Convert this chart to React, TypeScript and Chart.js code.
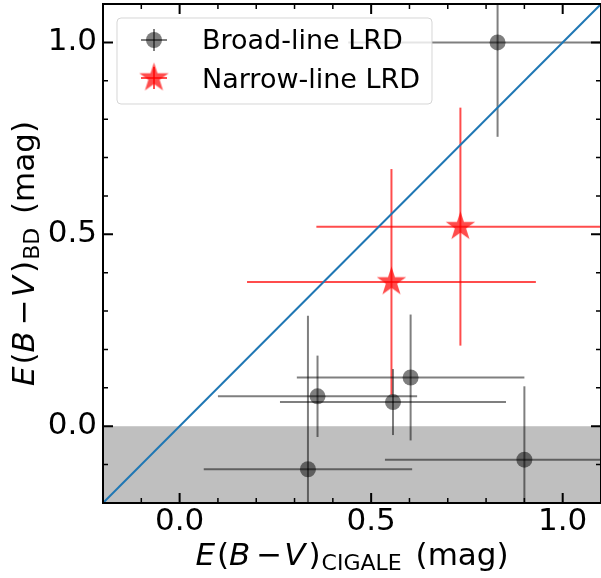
import React, { useEffect, useRef } from "react";
import { Chart, registerables } from "chart.js";

Chart.register(...registerables);

// ---- data ----
const broadX = [0.83, 0.36, 0.557, 0.603, 0.335, 0.9];
const broadY = [1.0, 0.078, 0.063, 0.127, -0.112, -0.087];
const broadXErr = [0.39, 0.26, 0.295, 0.297, 0.272, 0.364];
const broadYErr = [0.246, 0.106, 0.086, 0.164, 0.4, 0.191];

const narrowX = [0.553, 0.733];
const narrowY = [0.376, 0.52];
const narrowXErr = [0.377, 0.376];
const narrowYErr = [0.294, 0.31];

const oneToOne = [-0.2, 1.1];
const xLimits = [-0.2, 1.1];
const yLimits = [-0.2, 1.1];
const majorTicks = [0, 0.5, 1.0];
const minorTicks = [-0.1, 0.1, 0.2, 0.3, 0.4, 0.6, 0.7, 0.8, 0.9];
const shadeBelow = 0;
const legendLabels = ["Broad-line LRD", "Narrow-line LRD"];
const xTitleSub = "CIGALE";
const yTitleSub = "BD";

// ---- styles ----
const GRAY = "rgba(0,0,0,0.5)";
const RED = "rgba(255,0,0,0.7)";
const BLUE = "#1f77b4";
const SHADE = "rgba(128,128,128,0.5)";
const FONT = '"DejaVu Sans", sans-serif';
const TICK_SIZE = 31;
const LABEL_SIZE = 31;
const LEGEND_SIZE = 27;

function makeStar(R: number, color: string) {
  const c = document.createElement("canvas");
  const s = Math.ceil(R * 2 + 2);
  c.width = s;
  c.height = s;
  const g = c.getContext("2d")!;
  const cx = s / 2;
  const cy = s / 2;
  const r = R * 0.381966;
  g.beginPath();
  for (let k = 0; k < 10; k++) {
    const rad = k % 2 === 0 ? R : r;
    const a = -Math.PI / 2 + (k * Math.PI) / 5;
    const px = cx + rad * Math.cos(a);
    const py = cy + rad * Math.sin(a);
    if (k === 0) g.moveTo(px, py);
    else g.lineTo(px, py);
  }
  g.closePath();
  g.fillStyle = color;
  g.fill();
  return c;
}

function drawMathLabel(ctx: CanvasRenderingContext2D, sub: string, size: number) {
  const main = `${size}px ${FONT}`;
  const ital = `italic ${size}px ${FONT}`;
  const subF = `${Math.round(size * 0.7)}px ${FONT}`;
  const segs = [
    { t: "E", f: ital, pre: 0, dy: 0 },
    { t: "(", f: main, pre: 2, dy: 0 },
    { t: "B", f: ital, pre: 0, dy: 0 },
    { t: "\u2212", f: main, pre: 6, dy: 0 },
    { t: "V", f: ital, pre: 2, dy: 0 },
    { t: ")", f: main, pre: 3, dy: 0 },
    { t: sub, f: subF, pre: 1, dy: size * 0.15 },
    { t: " (mag)", f: main, pre: 4, dy: 0 },
  ];
  let total = 0;
  const widths: number[] = [];
  for (const s of segs) {
    ctx.font = s.f;
    const w = ctx.measureText(s.t).width;
    widths.push(w);
    total += s.pre + w;
  }
  let x = -total / 2;
  ctx.fillStyle = "#000";
  ctx.textAlign = "left";
  ctx.textBaseline = "alphabetic";
  segs.forEach((s, i) => {
    x += s.pre;
    ctx.font = s.f;
    ctx.fillText(s.t, x, s.dy);
    x += widths[i];
  });
}

export default function App() {
  const ref = useRef<HTMLCanvasElement>(null);

  useEffect(() => {
    const canvas = ref.current!;
    const star = makeStar(15.5, RED);

    const datasets: any[] = [];
    datasets.push({
      label: legendLabels[0],
      data: broadX.map((x, i) => ({ x, y: broadY[i] })),
      pointStyle: "circle",
      pointRadius: 8,
      backgroundColor: GRAY,
      borderWidth: 0,
      order: 0,
    });
    datasets.push({
      label: legendLabels[1],
      data: narrowX.map((x, i) => ({ x, y: narrowY[i] })),
      pointStyle: star,
      pointRadius: 15.5,
      backgroundColor: RED,
      borderWidth: 0,
      order: 0,
    });
    datasets.push({
      label: "1:1",
      data: oneToOne.map((v) => ({ x: v, y: v })),
      showLine: true,
      borderColor: BLUE,
      borderWidth: 2,
      pointRadius: 0,
      order: 1,
    });
    const addErr = (xs: number[], ys: number[], xe: number[], ye: number[], color: string) => {
      xs.forEach((x, i) => {
        const y = ys[i];
        datasets.push({
          data: [
            { x: x - xe[i], y },
            { x: x + xe[i], y },
          ],
          showLine: true,
          borderColor: color,
          borderWidth: 2,
          pointRadius: 0,
          order: 2,
        });
        datasets.push({
          data: [
            { x, y: y - ye[i] },
            { x, y: y + ye[i] },
          ],
          showLine: true,
          borderColor: color,
          borderWidth: 2,
          pointRadius: 0,
          order: 2,
        });
      });
    };
    addErr(broadX, broadY, broadXErr, broadYErr, GRAY);
    addErr(narrowX, narrowY, narrowXErr, narrowYErr, RED);

    const decor = {
      id: "decor",
      beforeDatasetsDraw(chart: any) {
        const { ctx, chartArea: a, scales } = chart;
        const y0 = scales.y.getPixelForValue(shadeBelow);
        ctx.save();
        ctx.fillStyle = SHADE;
        ctx.fillRect(a.left, y0, a.right - a.left, a.bottom - y0);
        ctx.restore();
      },
      afterDatasetsDraw(chart: any) {
        const { ctx, chartArea: a, scales } = chart;
        const xs = scales.x;
        const ys = scales.y;
        ctx.save();
        ctx.strokeStyle = "#000";
        const tick = (vals: number[], len: number, w: number) => {
          ctx.lineWidth = w;
          ctx.beginPath();
          for (const v of vals) {
            const px = xs.getPixelForValue(v);
            ctx.moveTo(px, a.bottom);
            ctx.lineTo(px, a.bottom - len);
            ctx.moveTo(px, a.top);
            ctx.lineTo(px, a.top + len);
            const py = ys.getPixelForValue(v);
            ctx.moveTo(a.left, py);
            ctx.lineTo(a.left + len, py);
            ctx.moveTo(a.right, py);
            ctx.lineTo(a.right - len, py);
          }
          ctx.stroke();
        };
        tick(majorTicks, 10, 2);
        tick(minorTicks, 5, 1.5);
        ctx.lineWidth = 2;
        ctx.strokeRect(a.left, a.top, a.right - a.left, a.bottom - a.top);
        ctx.restore();
      },
      afterDraw(chart: any) {
        const { ctx, chartArea: a } = chart;
        ctx.save();
        // legend
        const lx = 117, ly = 18, lw = 315, lh = 86;
        ctx.beginPath();
        (ctx as any).roundRect(lx, ly, lw, lh, 4);
        ctx.fillStyle = "rgba(255,255,255,0.8)";
        ctx.fill();
        ctx.strokeStyle = "rgba(204,204,204,0.8)";
        ctx.lineWidth = 1;
        ctx.stroke();

        const mx = 154;
        const rows = [40, 78];
        const cols = [GRAY, RED];
        rows.forEach((ry, i) => {
          ctx.strokeStyle = cols[i];
          ctx.lineWidth = 2;
          ctx.beginPath();
          ctx.moveTo(mx - 13, ry);
          ctx.lineTo(mx + 13, ry);
          ctx.stroke();
          ctx.beginPath();
          ctx.moveTo(mx, ry - 11);
          ctx.lineTo(mx, ry + 11);
          ctx.stroke();
        });
        ctx.fillStyle = GRAY;
        ctx.beginPath();
        ctx.arc(mx, rows[0], 8, 0, Math.PI * 2);
        ctx.fill();
        ctx.drawImage(star, mx - star.width / 2, rows[1] - star.height / 2);

        ctx.fillStyle = "#000";
        ctx.font = `${LEGEND_SIZE}px ${FONT}`;
        ctx.textAlign = "left";
        ctx.textBaseline = "alphabetic";
        ctx.fillText(legendLabels[0], 202, 48.5);
        ctx.fillText(legendLabels[1], 202, 88);

        // axis titles
        ctx.save();
        ctx.translate((a.left + a.right) / 2, 565);
        drawMathLabel(ctx, xTitleSub, LABEL_SIZE);
        ctx.restore();
        ctx.save();
        ctx.translate(34, (a.top + a.bottom) / 2);
        ctx.rotate(-Math.PI / 2);
        drawMathLabel(ctx, yTitleSub, LABEL_SIZE);
        ctx.restore();
        ctx.restore();
      },
    };

    const tickFont = { family: FONT, size: TICK_SIZE };
    const chart = new Chart(canvas, {
      type: "scatter",
      data: { datasets },
      options: {
        animation: false,
        responsive: false,
        devicePixelRatio: 1,
        events: [],
        layout: { autoPadding: false, padding: { top: 4, right: 0, left: 0, bottom: 0 } },
        plugins: { legend: { display: false }, tooltip: { enabled: false } },
        scales: {
          x: {
            type: "linear",
            min: xLimits[0],
            max: xLimits[1],
            grid: { display: false, drawTicks: false },
            border: { display: false },
            ticks: {
              font: tickFont,
              color: "#000",
              padding: 0,
              maxRotation: 0,
              autoSkip: false,
              callback: (v: any) => Number(v).toFixed(1),
            },
            afterBuildTicks: (s: any) => {
              s.ticks = majorTicks.map((v) => ({ value: v }));
            },
            afterFit: (s: any) => {
              s.height = 75;
              s.paddingLeft = 0;
              s.paddingRight = 0;
            },
          },
          y: {
            type: "linear",
            min: yLimits[0],
            max: yLimits[1],
            grid: { display: false, drawTicks: false },
            border: { display: false },
            ticks: {
              font: tickFont,
              color: "#000",
              padding: 6,
              autoSkip: false,
              callback: (v: any) => Number(v).toFixed(1),
            },
            afterBuildTicks: (s: any) => {
              s.ticks = majorTicks.map((v) => ({ value: v }));
            },
            afterFit: (s: any) => {
              s.width = 103;
              s.paddingTop = 0;
              s.paddingBottom = 0;
            },
          },
        },
      } as any,
      plugins: [decor],
    });
    return () => chart.destroy();
  }, []);

  return (
    <div style={{ position: "absolute", left: 0, top: 0, width: 601, height: 578, overflow: "hidden", background: "#fff" }}>
      <canvas ref={ref} width={601} height={578} style={{ display: "block", width: 601, height: 578 }} />
    </div>
  );
}
